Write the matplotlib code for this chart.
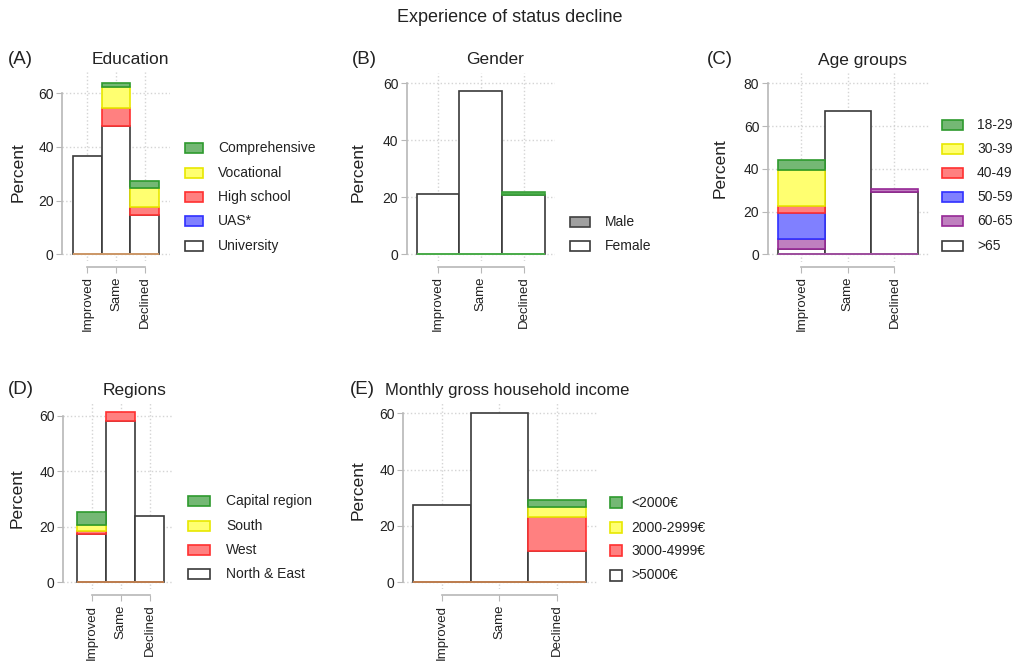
import matplotlib
matplotlib.use("Agg")
import matplotlib.pyplot as plt

plt.rcParams["font.family"] = ["Liberation Sans", "DejaVu Sans"]

W, H = 1024, 664

categories = ["Improved", "Same", "Declined"]

# (A) Education, stacked bottom -> top
edu_labels = ["University", "UAS*", "High school", "Vocational", "Comprehensive"]
edu_university = [36.6, 47.8, 14.7]
edu_uas = [0.0, 0.0, 0.0]
edu_high_school = [0.0, 6.6, 3.1]
edu_vocational = [0.0, 8.0, 7.0]
edu_comprehensive = [0.0, 1.3, 2.4]

# (B) Gender
gender_labels = ["Female", "Male"]
gender_female = [21.2, 57.3, 20.7]
gender_male = [0.0, 0.0, 1.2]

# (C) Age groups
age_labels = [">65", "60-65", "50-59", "40-49", "30-39", "18-29"]
age_65plus = [2.5, 67.1, 29.3]
age_60_65 = [4.7, 0.0, 1.1]
age_50_59 = [12.0, 0.0, 0.0]
age_40_49 = [3.6, 0.0, 0.0]
age_30_39 = [16.8, 0.0, 0.0]
age_18_29 = [4.5, 0.0, 0.0]

# (D) Regions
region_labels = ["North & East", "West", "South", "Capital region"]
region_north_east = [17.5, 58.2, 23.9]
region_west = [1.1, 3.0, 0.0]
region_south = [2.2, 0.0, 0.0]
region_capital = [4.5, 0.0, 0.0]

# (E) Income
income_labels = [">5000€", "3000-4999€", "2000-2999€", "<2000€"]
income_5000plus = [27.5, 60.0, 11.1]
income_3000_4999 = [0.0, 0.0, 12.0]
income_2000_2999 = [0.0, 0.0, 3.6]
income_below_2000 = [0.0, 0.0, 2.5]

WHITE = ("white", "#3a3a3a")
GREEN = ("#74b874", "#2e9a2e")
YELLOW = ("#ffff70", "#e8e800")
RED = ("#ff8080", "#ff3030")
BLUE = ("#8080ff", "#3030ff")
PURPLE = ("#bf80bf", "#962896")
GRAY = ("#a0a0a0", "#404040")

panels = [
    dict(tag="(A)", title="Education", tag_x=8, title_x=130, title_y=60, title_ha="center",
         series=[edu_university, edu_uas, edu_high_school, edu_vocational, edu_comprehensive],
         labels=edu_labels, colors=[WHITE, BLUE, RED, YELLOW, GREEN],
         seg_colors=None,
         ax_left=62, ax_right=170, bar_left=73, bar_right=159,
         y0=254.3, ytop_px=93.3, ytop=60, yticks=[0, 20, 40, 60], ylim=(-2.5, 68),
         xaxis_px=266.7, base_col="#d09a6a", ylab=(18, 172),
         leg_patch=(185, 203, 10), leg_text=218, leg_rows=[245.7, 221, 196.7, 172.7, 148.3]),
    dict(tag="(B)", title="Gender", tag_x=352, title_x=495, title_y=60, title_ha="center",
         series=[gender_female, gender_male],
         labels=gender_labels, colors=[WHITE, GRAY],
         seg_colors=[WHITE, ("#4caf4c", "#3aa03a")],
         ax_left=406.7, ax_right=555, bar_left=416.7, bar_right=545,
         y0=254.3, ytop_px=83.3, ytop=60, yticks=[0, 20, 40, 60], ylim=(-2.5, 63.6),
         xaxis_px=266.7, base_col="#4caf4c", ylab=(358, 172),
         leg_patch=(570, 590, 10), leg_text=605, leg_rows=[245.7, 221.7]),
    dict(tag="(C)", title="Age groups", tag_x=707, title_x=862, title_y=60, title_ha="center",
         series=[age_65plus, age_60_65, age_50_59, age_40_49, age_30_39, age_18_29],
         labels=age_labels, colors=[WHITE, PURPLE, BLUE, RED, YELLOW, GREEN],
         seg_colors=None,
         ax_left=767.7, ax_right=930, bar_left=778, bar_right=917.7,
         y0=254.3, ytop_px=83.3, ytop=80, yticks=[0, 20, 40, 60, 80], ylim=(-3.4, 84.8),
         xaxis_px=266.7, base_col="#a050a0", ylab=(720, 168),
         leg_patch=(942, 963, 10), leg_text=977,
         leg_rows=[245.7, 221, 196.7, 172.7, 149, 125]),
    dict(tag="(D)", title="Regions", tag_x=8, title_x=135, title_y=390, title_ha="center",
         series=[region_north_east, region_west, region_south, region_capital],
         labels=region_labels, colors=[WHITE, RED, YELLOW, GREEN],
         seg_colors=None,
         ax_left=63, ax_right=173, bar_left=77, bar_right=164,
         y0=582.3, ytop_px=415.7, ytop=60, yticks=[0, 20, 40, 60], ylim=(-2.5, 65),
         xaxis_px=595, base_col="#c08050", ylab=(17, 498),
         leg_patch=(188, 210, 10), leg_text=226, leg_rows=[574.3, 550, 525.7, 500.7]),
    dict(tag="(E)", title="Monthly gross household income", tag_x=350, title_x=385, title_y=390,
         title_ha="left",
         series=[income_5000plus, income_3000_4999, income_2000_2999, income_below_2000],
         labels=income_labels, colors=[WHITE, RED, YELLOW, GREEN],
         seg_colors=None,
         ax_left=403, ax_right=597, bar_left=413, bar_right=585.7,
         y0=582.3, ytop_px=413.3, ytop=60, yticks=[0, 20, 40, 60], ylim=(-2.5, 64),
         xaxis_px=595, base_col="#c08050", ylab=(358, 490),
         leg_patch=(610, 621.7, 11), leg_text=631, leg_rows=[575, 550.7, 527.7, 502.7]),
]

fig = plt.figure(figsize=(W / 100, H / 100), dpi=100)
fig.text(510 / W, 1 - 18 / H, "Experience of status decline", ha="center", va="center",
         fontsize=13, color="#222222")

for p in panels:
    scale = (p["y0"] - p["ytop_px"]) / p["ytop"]
    ax_top = p["y0"] - p["ylim"][1] * scale
    ax_bot = p["y0"] - p["ylim"][0] * scale
    ax = fig.add_axes([p["ax_left"] / W, 1 - ax_bot / H,
                       (p["ax_right"] - p["ax_left"]) / W, (ax_bot - ax_top) / H])
    unit = (p["bar_right"] - p["bar_left"]) / 3
    xl = -0.5 - (p["bar_left"] - p["ax_left"]) / unit
    xr = 2.5 + (p["ax_right"] - p["bar_right"]) / unit
    ax.set_xlim(xl, xr)
    ax.set_ylim(*p["ylim"])

    bottom = [0.0] * len(categories)
    seg_cols = p["seg_colors"] or p["colors"]
    for vals, (fc, ec) in zip(p["series"], seg_cols):
        idx = [i for i, v in enumerate(vals) if v > 0]
        if idx:
            ax.bar(idx, [vals[i] for i in idx], width=1.0, bottom=[bottom[i] for i in idx],
                   facecolor=fc, edgecolor=ec, linewidth=1.2, zorder=2)
        bottom = [b + v for b, v in zip(bottom, vals)]
    ax.hlines(0, -0.5, 2.5, color=p["base_col"], linewidth=1.4, zorder=3)

    # axes in R style
    for s in ("top", "right"):
        ax.spines[s].set_visible(False)
    ax.spines["left"].set_bounds(0, p["ytop"])
    ax.spines["bottom"].set_bounds(0, 2)
    ax.spines["bottom"].set_position(("outward", (p["xaxis_px"] - ax_bot) * 0.72))
    for s in ("left", "bottom"):
        ax.spines[s].set_color("#b8b8b8")
        ax.spines[s].set_linewidth(1.2)
    ax.set_yticks(p["yticks"])
    ax.set_xticks(range(len(categories)))
    ax.set_xticklabels(categories, rotation=90, fontsize=9.5)
    ax.tick_params(axis="y", length=4, color="#b8b8b8", labelsize=10, labelcolor="#222222", pad=2)
    ax.tick_params(axis="x", length=4, color="#b8b8b8", labelcolor="#222222", pad=3)
    ax.grid(True, linestyle=":", color="#d4d4d4", linewidth=1.0)
    ax.set_axisbelow(True)

    fig.text(p["ylab"][0] / W, 1 - p["ylab"][1] / H, "Percent", rotation=90,
             ha="center", va="center", fontsize=12.5, color="#222222")
    fig.text(p["tag_x"] / W, 1 - p["title_y"] / H, p["tag"], ha="left", va="center",
             fontsize=13.5, color="#222222")
    fig.text(p["title_x"] / W, 1 - p["title_y"] / H, p["title"], ha=p["title_ha"], va="center",
             fontsize=12 if p["title_ha"] == "left" else 12.5, color="#222222")

    # legend
    x0, x1, hh = p["leg_patch"]
    for lab, (fc, ec), ry in zip(p["labels"], p["colors"], p["leg_rows"]):
        rect = plt.Rectangle((x0 / W, 1 - (ry + hh / 2) / H), (x1 - x0) / W, hh / H,
                             transform=fig.transFigure, facecolor=fc, edgecolor=ec,
                             linewidth=1.2)
        fig.add_artist(rect)
        fig.text(p["leg_text"] / W, 1 - ry / H, lab, ha="left", va="center",
                 fontsize=10, color="#222222")

fig.savefig("out.png", dpi=100)
